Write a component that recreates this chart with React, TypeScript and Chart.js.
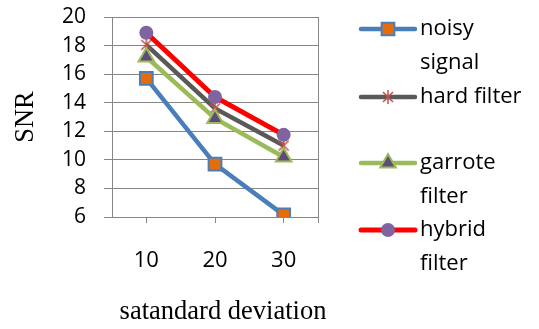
import React, { useEffect, useRef } from 'react';
import { Chart, registerables } from 'chart.js';

Chart.register(...registerables);

const categories = ['10', '20', '30'];
const noisySignal = [15.7, 9.7, 6.15];
const hardFilter = [18.05, 13.6, 11.0];
const garroteFilter = [17.2, 12.9, 10.2];
const hybridFilter = [18.9, 14.4, 11.75];
const yMin = 6;
const yMax = 20;
const yStep = 2;
const legendLabels = [['noisy', 'signal'], ['hard filter'], ['garrote', 'filter'], ['hybrid', 'filter']];
const xTitle = 'satandard deviation';
const yTitle = 'SNR';

const SANS = '"Open Sans", Lato, sans-serif';
const SERIF = '"Liberation Serif", "DejaVu Serif", serif';
const GRID = '#868686';

function makeAsterisk(): HTMLCanvasElement {
  const c = document.createElement('canvas');
  c.width = 16;
  c.height = 16;
  const g = c.getContext('2d')!;
  g.strokeStyle = '#C0504D';
  g.lineWidth = 1.5;
  g.beginPath();
  g.moveTo(3, 3); g.lineTo(13, 13);
  g.moveTo(13, 3); g.lineTo(3, 13);
  g.moveTo(8, 1); g.lineTo(8, 15);
  g.stroke();
  return c;
}

function drawMarker(ctx: CanvasRenderingContext2D, ds: any, x: number, y: number) {
  const style = ds.pointStyle;
  const r = ds.pointRadius;
  ctx.save();
  ctx.fillStyle = ds.pointBackgroundColor;
  ctx.strokeStyle = ds.pointBorderColor;
  ctx.lineWidth = ds.pointBorderWidth;
  if (style instanceof HTMLCanvasElement) {
    ctx.drawImage(style, x - style.width / 2, y - style.height / 2);
  } else if (style === 'rect') {
    const s = Math.SQRT1_2 * r;
    ctx.beginPath();
    ctx.rect(x - s, y - s, 2 * s, 2 * s);
    ctx.fill();
    ctx.stroke();
  } else if (style === 'triangle') {
    ctx.beginPath();
    let a = 0;
    for (let i = 0; i < 3; i++) {
      const px = x + Math.sin(a) * r;
      const py = y - Math.cos(a) * r;
      if (i === 0) ctx.moveTo(px, py); else ctx.lineTo(px, py);
      a += (Math.PI * 2) / 3;
    }
    ctx.closePath();
    ctx.fill();
    ctx.stroke();
  } else {
    ctx.beginPath();
    ctx.arc(x, y, r, 0, Math.PI * 2);
    ctx.fill();
    if (ds.pointBorderWidth) ctx.stroke();
  }
  ctx.restore();
}

const decorPlugin = {
  id: 'decor',
  afterDraw(chart: any) {
    const { ctx, chartArea } = chart;
    ctx.save();
    // right border
    ctx.strokeStyle = GRID;
    ctx.lineWidth = 1;
    ctx.beginPath();
    const rx = Math.round(chartArea.right) + 0.5;
    ctx.moveTo(rx, chartArea.top);
    ctx.lineTo(rx, chartArea.bottom + 6);
    ctx.stroke();

    // axis titles
    ctx.fillStyle = '#000';
    ctx.font = `26.5px ${SERIF}`;
    ctx.textAlign = 'center';
    ctx.textBaseline = 'middle';
    ctx.fillText(xTitle, 223, 312);
    ctx.save();
    ctx.translate(26, (chartArea.top + chartArea.bottom) / 2);
    ctx.rotate(-Math.PI / 2);
    ctx.fillText(yTitle, 0, 0);
    ctx.restore();

    // legend
    const rowYs = [29, 97, 163, 230];
    const lineH = 33.5;
    chart.data.datasets.forEach((ds: any, i: number) => {
      const y = rowYs[i];
      ctx.save();
      ctx.strokeStyle = ds.borderColor;
      ctx.lineWidth = ds.borderWidth;
      ctx.lineCap = 'round';
      ctx.beginPath();
      ctx.moveTo(361, y);
      ctx.lineTo(415, y);
      ctx.stroke();
      ctx.restore();
      drawMarker(ctx, ds, 388, y);
      ctx.fillStyle = '#000';
      ctx.font = `22px ${SANS}`;
      ctx.textAlign = 'left';
      ctx.textBaseline = 'middle';
      legendLabels[i].forEach((t, j) => ctx.fillText(t, 420, y + j * lineH));
    });
    ctx.restore();
  },
};

export default function App() {
  const ref = useRef<HTMLCanvasElement>(null);
  useEffect(() => {
    document.body.style.margin = '0';
    const star = makeAsterisk();
    const chart = new Chart(ref.current!, {
      type: 'line',
      data: {
        labels: categories,
        datasets: [
          {
            label: 'noisy signal', data: noisySignal, borderColor: '#4A7EBB', borderWidth: 4.5,
            pointStyle: 'rect', pointRadius: 9, pointBackgroundColor: '#E46C0A', pointBorderColor: '#4A7EBB', pointBorderWidth: 2, order: 4,
          },
          {
            label: 'hard filter', data: hardFilter, borderColor: '#595959', borderWidth: 4.5,
            pointStyle: star as any, pointRadius: 7, pointBackgroundColor: '#C0504D', pointBorderColor: '#C0504D', pointBorderWidth: 1, order: 3,
          },
          {
            label: 'garrote filter', data: garroteFilter, borderColor: '#9BBB59', borderWidth: 4.5,
            pointStyle: 'triangle', pointRadius: 9, pointBackgroundColor: '#604A7B', pointBorderColor: '#9BBB59', pointBorderWidth: 2, order: 2,
          },
          {
            label: 'hybrid filter', data: hybridFilter, borderColor: '#FF0000', borderWidth: 5,
            pointStyle: 'circle', pointRadius: 7, pointBackgroundColor: '#8064A2', pointBorderColor: '#8064A2', pointBorderWidth: 0, order: 1,
          },
        ] as any,
      },
      options: {
        animation: false,
        responsive: false,
        events: [],
        layout: { padding: { top: 17, right: 221, left: 0, bottom: 0 } },
        plugins: { legend: { display: false }, tooltip: { enabled: false } },
        scales: {
          x: {
            offset: true,
            grid: { drawOnChartArea: false, drawTicks: true, tickLength: 6, color: GRID, lineWidth: 1, offset: false },
            border: { color: GRID, width: 1 },
            ticks: { color: '#000', font: { family: SANS, size: 22 }, padding: 25, maxRotation: 0, autoSkip: false },
            afterFit: (s: any) => { s.height = 329 - 217; s.paddingLeft = 0; s.paddingRight = 0; },
          },
          y: {
            min: yMin,
            max: yMax,
            grid: { color: GRID, lineWidth: 1, tickLength: 8 },
            border: { color: GRID, width: 1 },
            ticks: { stepSize: yStep, color: '#000', font: { family: SANS, size: 21 }, padding: 18, autoSkip: false },
            afterFit: (s: any) => { s.width = 112; s.paddingTop = 0; s.paddingBottom = 0; },
          },
        },
      },
      plugins: [decorPlugin],
    });
    return () => chart.destroy();
  }, []);
  return (
    <div style={{ position: 'absolute', left: 0, top: 0, width: 539, height: 329, background: '#fff' }}>
      <canvas ref={ref} width={539} height={329} />
    </div>
  );
}
